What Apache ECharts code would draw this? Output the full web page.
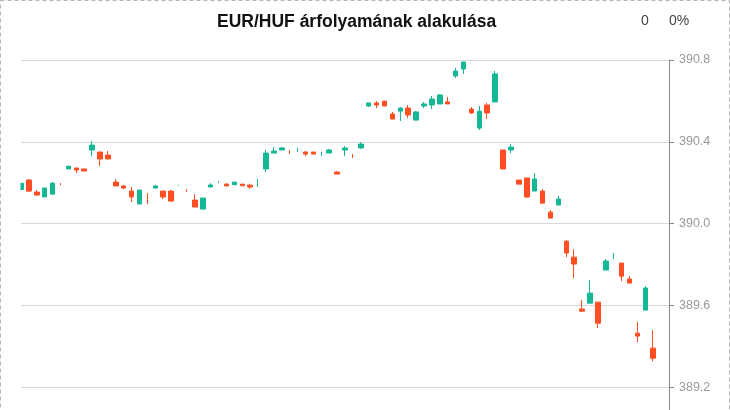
<!DOCTYPE html>
<html>
<head>
<meta charset="utf-8">
<script src="https://cdn.jsdelivr.net/npm/echarts@6/dist/echarts.min.js"></script>
<style>
html,body{margin:0;padding:0;background:#fff;width:730px;height:410px;overflow:hidden;}
#wrap{width:730px;height:410px;overflow:hidden;position:relative;}
#chart{width:730px;height:469px;position:absolute;left:0;top:0;}
</style>
</head>
<body>
<div id="wrap"><div id="chart"></div></div>
<script>
var titleText = 'EUR/HUF árfolyamának alakulása';
var changeValue = '0';
var changePercent = '0%';
var yTicks = [389.2, 389.6, 390.0, 390.4, 390.8];

var openVals = [
390.167,390.213,390.154,390.130,390.144,390.198,390.267,390.272,390.267,390.360,
390.350,390.335,390.203,390.184,390.159,390.096,390.125,390.174,390.159,390.159,
390.186,390.162,390.115,390.071,390.179,390.203,390.193,390.190,390.193,390.188,
390.190,390.267,390.345,390.360,390.350,390.360,390.350,390.350,390.340,390.345,
390.252,390.360,390.330,390.370,390.575,390.590,390.599,390.536,390.550,390.565,
390.506,390.575,390.580,390.585,390.595,390.722,390.756,390.560,390.467,390.580,
390.595,390.360,390.360,390.213,390.223,390.159,390.159,390.056,390.091,389.914,
389.836,389.582,389.611,389.616,389.773,389.840,389.807,389.729,389.464,389.577,
389.391];
var closeVals = [
390.197,390.159,390.140,390.174,390.198,390.197,390.281,390.262,390.257,390.384,
390.316,390.316,390.184,390.174,390.130,390.164,390.124,390.184,390.130,390.110,
390.187,390.161,390.081,390.125,390.189,390.204,390.184,390.203,390.185,390.179,
390.191,390.345,390.355,390.370,390.349,390.361,390.340,390.340,390.341,390.360,
390.242,390.370,390.329,390.389,390.590,390.580,390.575,390.511,390.565,390.531,
390.546,390.585,390.609,390.629,390.585,390.746,390.790,390.541,390.550,390.541,
390.732,390.267,390.374,390.193,390.130,390.218,390.100,390.027,390.120,389.856,
389.802,389.572,389.660,389.513,389.817,389.841,389.743,389.709,389.450,389.685,
389.342];
var lowVals = [
390.160,390.154,390.135,390.130,390.144,390.188,390.267,390.247,390.257,390.330,
390.281,390.316,390.184,390.169,390.105,390.096,390.096,390.174,390.120,390.110,
390.184,390.154,390.081,390.071,390.179,390.198,390.184,390.190,390.185,390.169,
390.179,390.252,390.345,390.360,390.340,390.350,390.330,390.340,390.330,390.345,
390.242,390.330,390.320,390.365,390.570,390.565,390.575,390.511,390.502,390.516,
390.506,390.565,390.560,390.585,390.585,390.712,390.732,390.536,390.458,390.511,
390.595,390.267,390.345,390.193,390.125,390.159,390.100,390.027,390.091,389.836,
389.733,389.567,389.611,389.489,389.773,389.826,389.719,389.709,389.420,389.577,
389.327];
var highVals = [
390.200,390.218,390.164,390.174,390.203,390.198,390.281,390.272,390.267,390.404,
390.350,390.355,390.218,390.189,390.179,390.164,390.149,390.189,390.159,390.164,
390.189,390.169,390.144,390.125,390.198,390.208,390.198,390.203,390.193,390.195,
390.218,390.360,390.374,390.374,390.360,390.370,390.355,390.350,390.350,390.365,
390.257,390.379,390.340,390.399,390.590,390.599,390.599,390.546,390.570,390.580,
390.550,390.595,390.624,390.634,390.619,390.761,390.790,390.570,390.575,390.590,
390.746,390.360,390.389,390.213,390.223,390.247,390.169,390.066,390.135,389.919,
389.875,389.626,389.724,389.616,389.826,389.856,389.807,389.743,389.518,389.694,
389.479];

var UP = '#15b895', DOWN = '#ff4f22';
var padSlots = 2;
var categories = [];
for (var i = 0; i < openVals.length + padSlots; i++) categories.push(String(i + 1));

var bodyData = [], dojiData = [];
for (var j = 0; j < openVals.length; j++) {
  var row = [openVals[j], closeVals[j], lowVals[j], highVals[j]];
  if (Math.abs(openVals[j] - closeVals[j]) < 0.002) { dojiData.push(row); bodyData.push('-'); }
  else { bodyData.push(row); dojiData.push('-'); }
}

var chart = echarts.init(document.getElementById('chart'), null, {renderer: 'canvas'});
var style = {color: UP, color0: DOWN, borderColor: UP, borderColor0: DOWN, borderWidth: 1};
var font = 'Liberation Sans, Arial, sans-serif';
chart.setOption({
  animation: false,
  backgroundColor: '#fff',
  title: {
    text: titleText, left: 212, top: 8,
    textStyle: {fontFamily: font, fontSize: 17.5, fontWeight: 'bold', color: '#111'}
  },
  graphic: [
    {type: 'rect', silent: true, shape: {x: 0, y: 40, width: 20.5, height: 440},
     style: {fill: '#fff'}, z: 99},
    {type: 'rect', silent: true, shape: {x: 0.5, y: 0.5, width: 729, height: 500},
     style: {fill: 'none', stroke: '#b5b5b5', lineWidth: 1, lineDash: [4, 3]}, z: 100},
    {type: 'text', left: 641, top: 14, style: {text: changeValue, fontSize: 14, fontFamily: font, fill: '#444'}},
    {type: 'text', left: 669, top: 14, style: {text: changePercent, fontSize: 14, fontFamily: font, fill: '#444'}}
  ],
  grid: {left: 21, right: 61, top: 60, bottom: 0, containLabel: false},
  xAxis: {type: 'category', data: categories, boundaryGap: false, show: false},
  yAxis: {
    type: 'value', position: 'right', min: 388.8, max: 390.8, interval: 0.4,
    axisLine: {show: true, lineStyle: {color: '#888', width: 1}},
    axisTick: {show: true, length: 5, lineStyle: {color: '#888'}},
    axisLabel: {color: '#999', fontSize: 12.5, margin: 10, fontFamily: font,
      formatter: function (v) { return yTicks.some(function(t){return Math.abs(t - v) < 1e-6;}) ? v.toFixed(1) : ''; }},
    splitLine: {show: true, lineStyle: {color: '#d8d8d8', width: 1}}
  },
  series: [
    {type: 'candlestick', data: bodyData, barWidth: 5, itemStyle: style},
    {type: 'candlestick', data: dojiData, barWidth: 0.01, itemStyle: style}
  ]
});
</script>
</body>
</html>
